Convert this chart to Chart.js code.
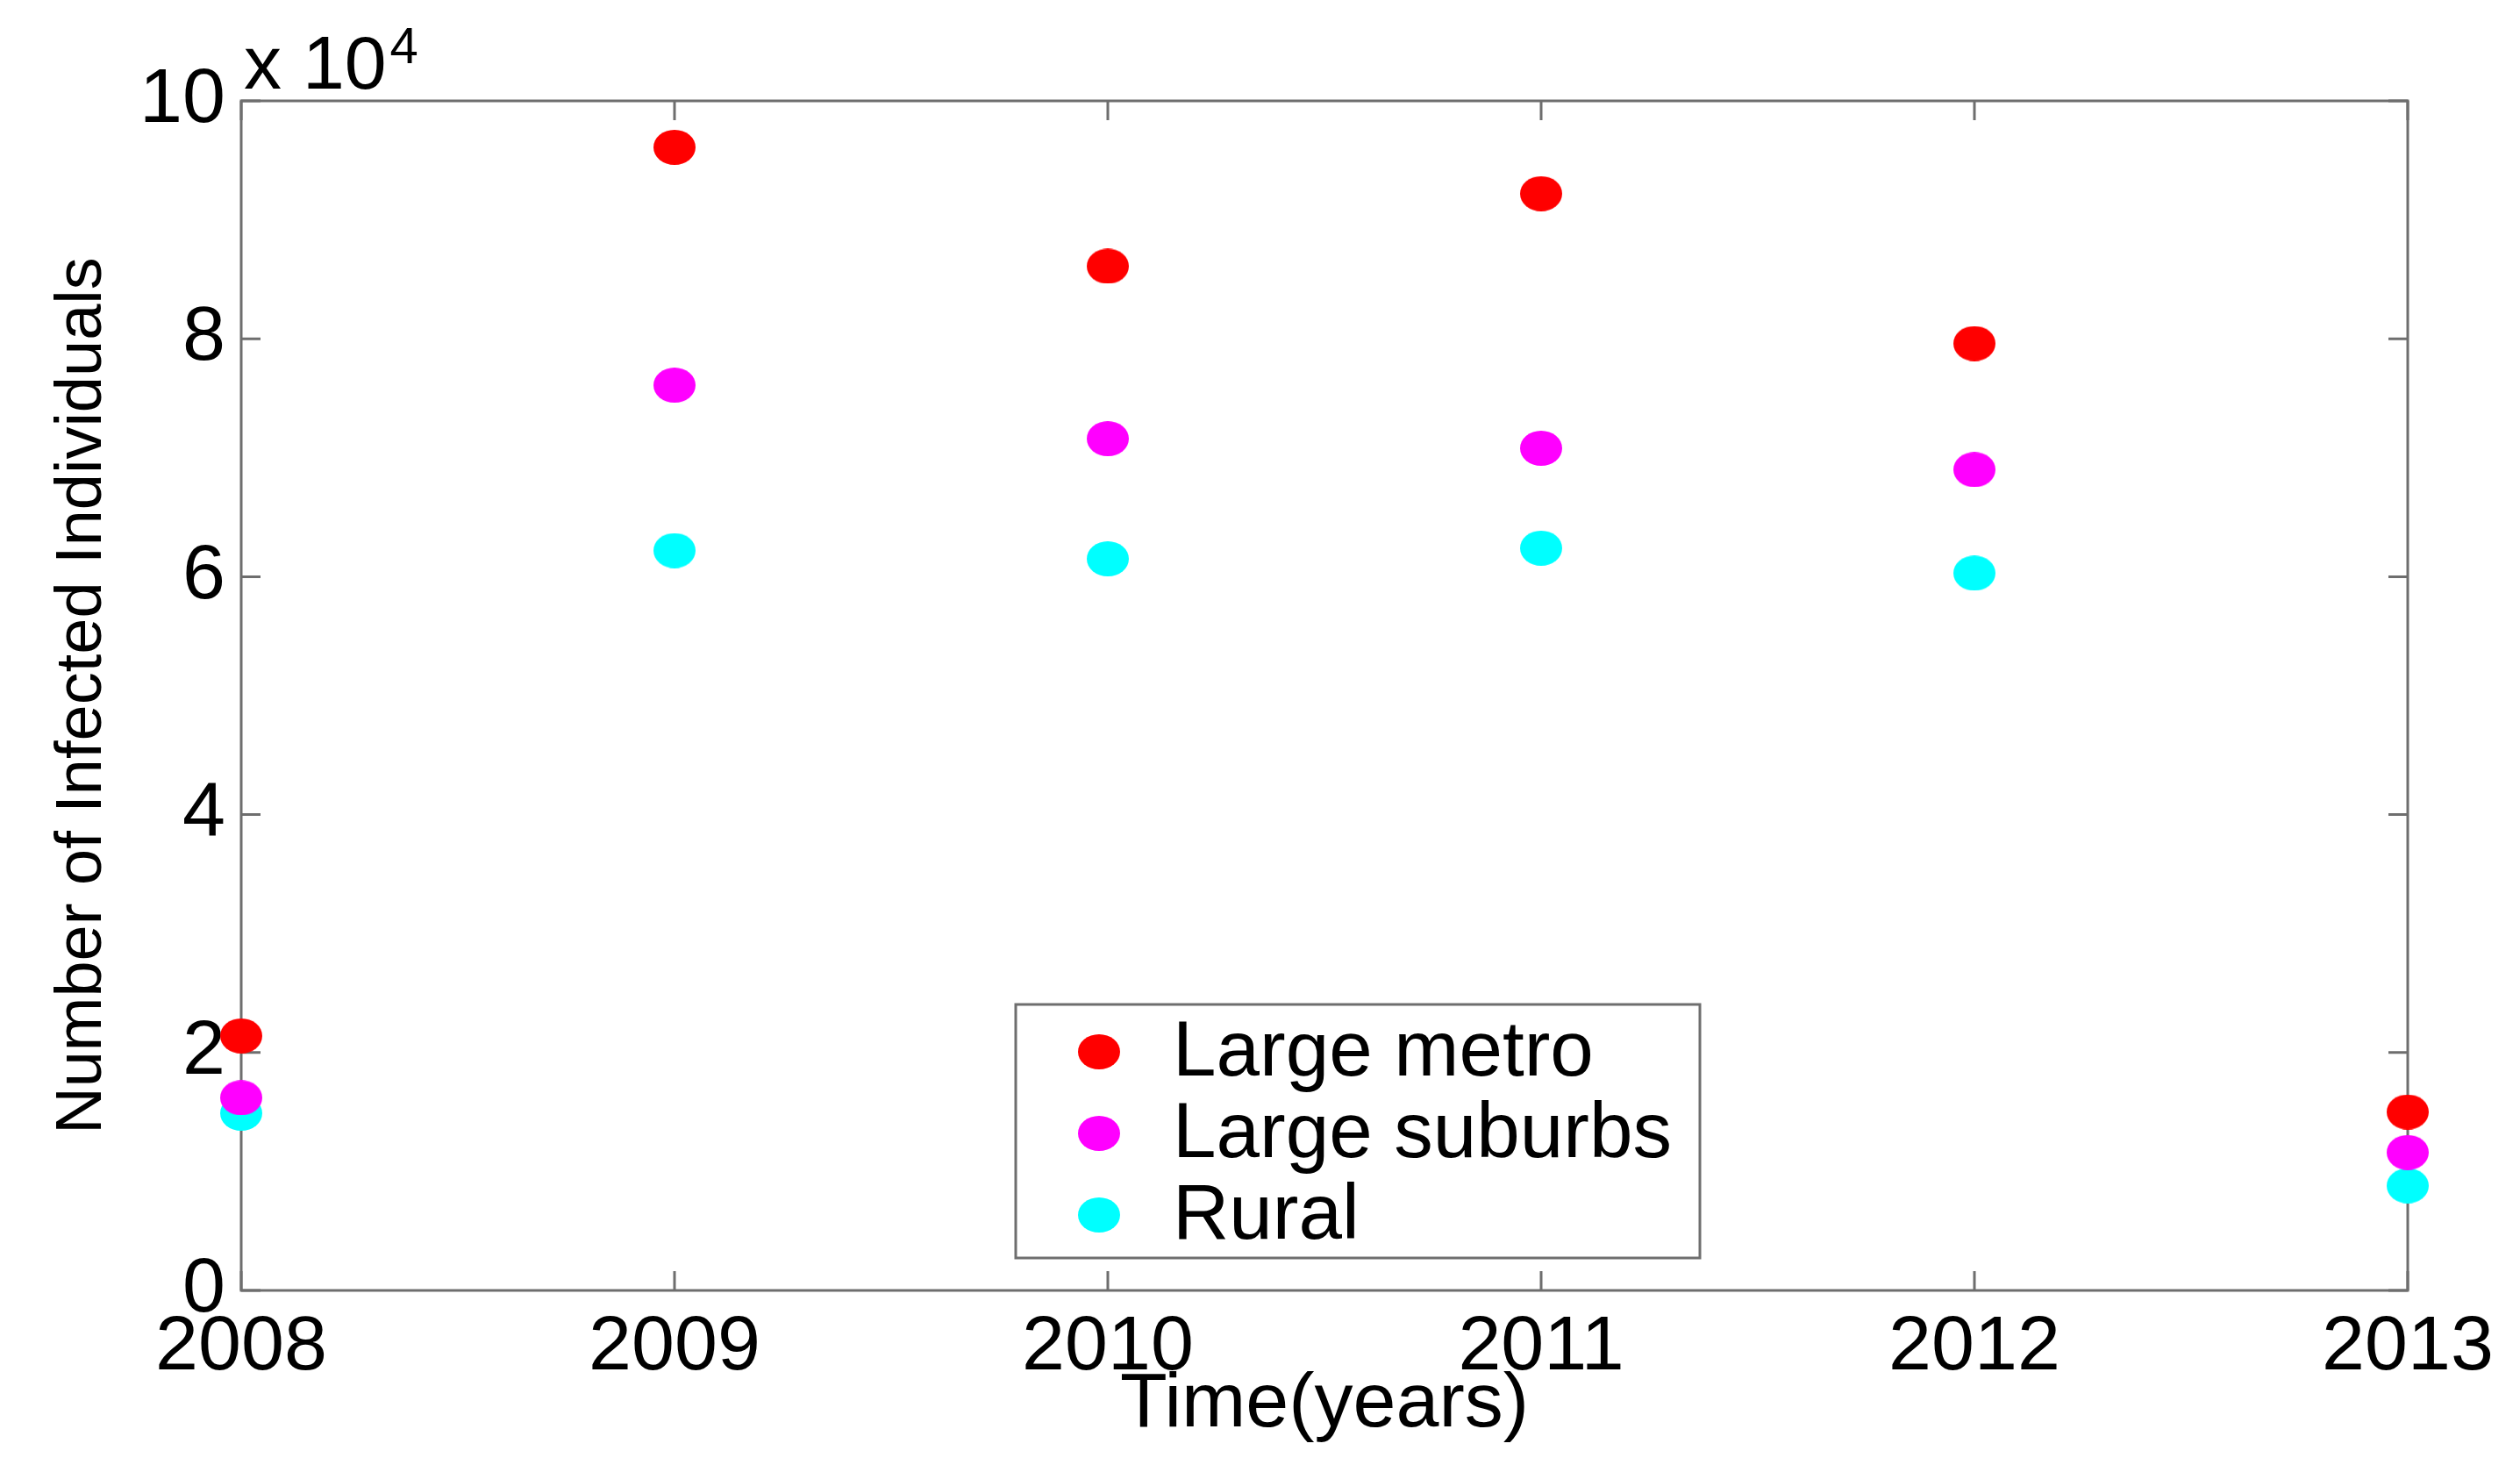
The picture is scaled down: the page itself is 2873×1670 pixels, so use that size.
<!DOCTYPE html>
<html>
<head>
<meta charset="utf-8">
<script src="https://cdn.jsdelivr.net/npm/chart.js@4.4.0/dist/chart.umd.min.js"></script>
<style>
  html, body { margin: 0; padding: 0; background: #fff; }
  canvas { display: block; }
</style>
</head>
<body>
<canvas id="infectados" width="2873" height="1670"></canvas>
<script>
// datos
const years = [2008, 2009, 2010, 2011, 2012, 2013];
const largeMetro = [21400, 96100, 86100, 92200, 79600, 15000];
const largeSuburbs = [16200, 76100, 71600, 70800, 69000, 11600];
const rural = [14900, 62200, 61500, 62400, 60300, 8800];
const seriesNames = ["Large metro", "Large suburbs", "Rural"];
const seriesColors = ["#ff0000", "#ff00ff", "#00ffff"];
const yTickStep = 20000;

const fontName = "'Liberation Sans', Arial, sans-serif";

function makeDot(color) {
    let c = document.createElement('canvas');
    c.width = 48; c.height = 40;
    let g = c.getContext('2d');
    g.fillStyle = color;
    g.beginPath();
    g.ellipse(24, 20, 24, 20, 0, 0, Math.PI * 2);
    g.fill();
    return c;
}

function toPoints(values) {
    return years.map((yr, i) => ({ x: yr, y: values[i] }));
}

let dots = seriesColors.map(makeDot);

// caja, marcas hacia adentro (estilo matlab)
const boxTicks = {
    id: 'boxTicks',
    beforeDatasetsDraw(chart) {
        const { ctx, chartArea: a, scales: { x, y } } = chart;
        ctx.save();
        ctx.strokeStyle = '#6e6e6e';
        ctx.lineWidth = 3;
        ctx.strokeRect(a.left, a.top, a.right - a.left, a.bottom - a.top);
        ctx.beginPath();
        x.ticks.forEach(t => {
            let px = x.getPixelForValue(t.value);
            ctx.moveTo(px, a.bottom); ctx.lineTo(px, a.bottom - 22);
            ctx.moveTo(px, a.top); ctx.lineTo(px, a.top + 22);
        });
        y.ticks.forEach(t => {
            let py = y.getPixelForValue(t.value);
            ctx.moveTo(a.left, py); ctx.lineTo(a.left + 22, py);
            ctx.moveTo(a.right, py); ctx.lineTo(a.right - 22, py);
        });
        ctx.stroke();
        ctx.restore();
    },
    afterDraw(chart) {
        const { ctx, chartArea: a } = chart;
        ctx.save();
        ctx.fillStyle = '#000';
        ctx.textBaseline = 'alphabetic';
        ctx.font = '86px ' + fontName;
        ctx.fillText('x 10', a.left + 3, 101);
        let w = ctx.measureText('x 10').width;
        ctx.font = '58px ' + fontName;
        ctx.fillText('4', a.left + 3 + w + 4, 72);

        // leyenda
        let bx = 1158, by = 1145, bw = 780, bh = 289;
        ctx.fillStyle = '#fff';
        ctx.fillRect(bx, by, bw, bh);
        ctx.strokeStyle = '#6e6e6e';
        ctx.lineWidth = 3;
        ctx.strokeRect(bx, by, bw, bh);
        ctx.font = '89px ' + fontName;
        ctx.textBaseline = 'middle';
        chart.data.datasets.forEach((ds, i) => {
            let cy = 1199 + i * 93;
            ctx.drawImage(dots[i], 1253 - 24, cy - 20);
            ctx.fillStyle = '#000';
            ctx.fillText(ds.label, 1337, cy + 2);
        });
        ctx.restore();
    }
};

const datasets = [largeMetro, largeSuburbs, rural].map((vals, i) => ({
    label: seriesNames[i],
    data: toPoints(vals),
    pointStyle: dots[i],
    backgroundColor: seriesColors[i],
    borderColor: seriesColors[i],
    clip: false
}));

const infectadosChart = new Chart(document.getElementById('infectados'), {
    type: 'scatter',
    data: { datasets: datasets },
    options: {
        responsive: false,
        animation: false,
        devicePixelRatio: 1,
        layout: { padding: { left: 0, right: 128, top: 115, bottom: 0 } },
        plugins: {
            legend: { display: false },
            tooltip: { enabled: false }
        },
        scales: {
            x: {
                type: 'linear',
                min: 2008,
                max: 2013,
                afterFit: s => { s.height = 199; },
                border: { display: false },
                grid: { drawOnChartArea: false, drawTicks: false },
                ticks: {
                    stepSize: 1,
                    padding: 22,
                    color: '#000',
                    font: { family: fontName, size: 88, lineHeight: 1 },
                    callback: v => String(v),
                    maxRotation: 0
                },
                title: {
                    display: true,
                    text: 'Time(years)',
                    color: '#000',
                    font: { family: fontName, size: 88, lineHeight: 1 },
                    padding: { top: 0, bottom: 24 }
                }
            },
            y: {
                min: 0,
                max: 100000,
                afterFit: s => { s.width = 275; },
                border: { display: false },
                grid: { drawOnChartArea: false, drawTicks: false },
                ticks: {
                    stepSize: yTickStep,
                    padding: 18,
                    color: '#000',
                    font: { family: fontName, size: 88, lineHeight: 1 },
                    callback: v => String(v / 10000)
                },
                title: {
                    display: true,
                    text: 'Number of Infected Individuals',
                    color: '#000',
                    font: { family: fontName, size: 74, lineHeight: 1 },
                    padding: { top: 58, bottom: 0 }
                }
            }
        }
    },
    plugins: [boxTicks]
});
</script>
</body>
</html>
